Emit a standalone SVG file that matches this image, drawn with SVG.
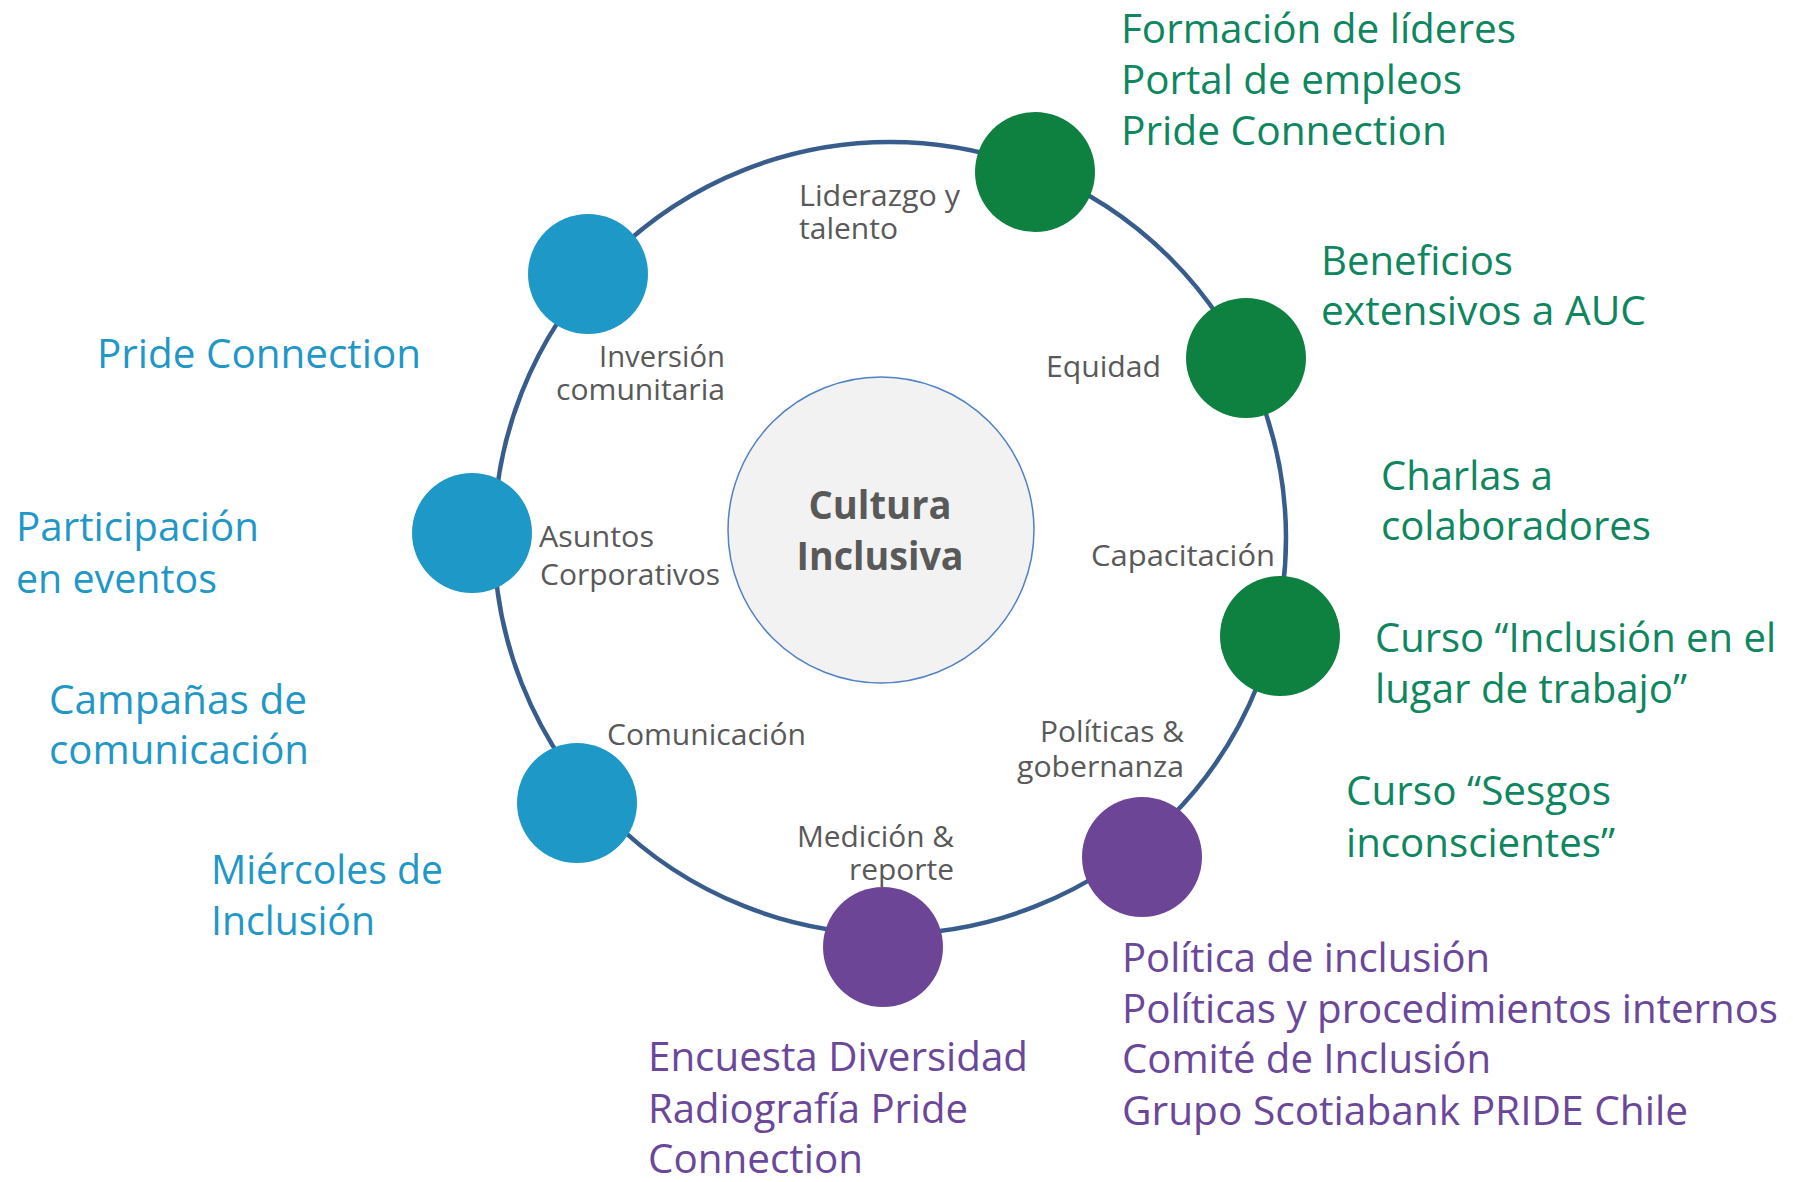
<svg xmlns="http://www.w3.org/2000/svg" width="1793" height="1182" viewBox="0 0 1793 1182">
<style>
text{font-family:"Open Sans","Noto Sans","Liberation Sans",sans-serif}
.lbl{font-size:29px;fill:#595959}
.g{font-size:40px;fill:#0e8660}
.b{font-size:40px;fill:#1f97c7}
.p{font-size:40px;fill:#6b479a}
.ng{fill:#0e8040}
.nb{fill:#1e98c6}
.np{fill:#6c4597}
.ctr{font-size:40px;font-weight:bold;fill:#595959}
</style>
<rect width="1793" height="1182" fill="#ffffff"/>
<g id="connectors">
<circle cx="890" cy="538" r="396" fill="none" stroke="#385d8c" stroke-width="4.5"/>
</g>
<g id="center">
<circle cx="881" cy="530" r="153" fill="#f2f2f2" stroke="#4f81c4" stroke-width="1.5"/>
<text class="ctr" x="880" y="519" text-anchor="middle" textLength="143" lengthAdjust="spacingAndGlyphs">Cultura</text>
<text class="ctr" x="880" y="570" text-anchor="middle" textLength="167" lengthAdjust="spacingAndGlyphs">Inclusiva</text>
</g>
<g id="node-liderazgo">
<circle class="ng" cx="1035" cy="172" r="60"/>
<text class="lbl" x="799" y="206" textLength="161" lengthAdjust="spacingAndGlyphs">Liderazgo y</text>
<text class="lbl" x="799" y="239" textLength="99" lengthAdjust="spacingAndGlyphs">talento</text>
<text class="g" x="1121" y="43" textLength="395" lengthAdjust="spacingAndGlyphs">Formación de líderes</text>
<text class="g" x="1121" y="94" textLength="341" lengthAdjust="spacingAndGlyphs">Portal de empleos</text>
<text class="g" x="1121" y="145" textLength="326" lengthAdjust="spacingAndGlyphs">Pride Connection</text>
</g>
<g id="node-equidad">
<circle class="ng" cx="1246" cy="358" r="60"/>
<text class="lbl" x="1046" y="377" textLength="115" lengthAdjust="spacingAndGlyphs">Equidad</text>
<text class="g" x="1321" y="275" textLength="192" lengthAdjust="spacingAndGlyphs">Beneficios</text>
<text class="g" x="1321" y="325" textLength="325" lengthAdjust="spacingAndGlyphs">extensivos a AUC</text>
</g>
<g id="node-capacitacion">
<circle class="ng" cx="1280" cy="636" r="60"/>
<text class="lbl" x="1091" y="566" textLength="184" lengthAdjust="spacingAndGlyphs">Capacitación</text>
<text class="g" x="1381" y="490" textLength="172" lengthAdjust="spacingAndGlyphs">Charlas a</text>
<text class="g" x="1381" y="540" textLength="270" lengthAdjust="spacingAndGlyphs">colaboradores</text>
<text class="g" x="1375" y="652" textLength="401" lengthAdjust="spacingAndGlyphs">Curso “Inclusión en el</text>
<text class="g" x="1375" y="703" textLength="312" lengthAdjust="spacingAndGlyphs">lugar de trabajo”</text>
<text class="g" x="1346" y="805" textLength="265" lengthAdjust="spacingAndGlyphs">Curso “Sesgos</text>
<text class="g" x="1346" y="857" textLength="269" lengthAdjust="spacingAndGlyphs">inconscientes”</text>
</g>
<g id="node-politicas">
<circle class="np" cx="1142" cy="857" r="60"/>
<text class="lbl" x="1184" y="742" text-anchor="end" textLength="144" lengthAdjust="spacingAndGlyphs">Políticas &amp;</text>
<text class="lbl" x="1184" y="777" text-anchor="end" textLength="167" lengthAdjust="spacingAndGlyphs">gobernanza</text>
<text class="p" x="1122" y="972" textLength="368" lengthAdjust="spacingAndGlyphs">Política de inclusión</text>
<text class="p" x="1122" y="1023" textLength="656" lengthAdjust="spacingAndGlyphs">Políticas y procedimientos internos</text>
<text class="p" x="1122" y="1073" textLength="369" lengthAdjust="spacingAndGlyphs">Comité de Inclusión</text>
<text class="p" x="1122" y="1125" textLength="566" lengthAdjust="spacingAndGlyphs">Grupo Scotiabank PRIDE Chile</text>
</g>
<g id="node-medicion">
<circle class="np" cx="883" cy="947" r="60"/>
<text class="lbl" x="954" y="847" text-anchor="end" textLength="157" lengthAdjust="spacingAndGlyphs">Medición &amp;</text>
<text class="lbl" x="954" y="880" text-anchor="end" textLength="105" lengthAdjust="spacingAndGlyphs">reporte</text>
<text class="p" x="648" y="1071" textLength="380" lengthAdjust="spacingAndGlyphs">Encuesta Diversidad</text>
<text class="p" x="648" y="1123" textLength="320" lengthAdjust="spacingAndGlyphs">Radiografía Pride</text>
<text class="p" x="648" y="1173" textLength="215" lengthAdjust="spacingAndGlyphs">Connection</text>
</g>
<g id="node-comunicacion">
<circle class="nb" cx="577" cy="803" r="60"/>
<text class="lbl" x="607" y="745" textLength="199" lengthAdjust="spacingAndGlyphs">Comunicación</text>
<text class="b" x="49" y="714" textLength="258" lengthAdjust="spacingAndGlyphs">Campañas de</text>
<text class="b" x="49" y="764" textLength="260" lengthAdjust="spacingAndGlyphs">comunicación</text>
<text class="b" x="211" y="884" textLength="232" lengthAdjust="spacingAndGlyphs">Miércoles de</text>
<text class="b" x="211" y="935" textLength="164" lengthAdjust="spacingAndGlyphs">Inclusión</text>
</g>
<g id="node-asuntos">
<circle class="nb" cx="472" cy="533" r="60"/>
<text class="lbl" x="539" y="547" textLength="115" lengthAdjust="spacingAndGlyphs">Asuntos</text>
<text class="lbl" x="540" y="585" textLength="180" lengthAdjust="spacingAndGlyphs">Corporativos</text>
<text class="b" x="16" y="541" textLength="243" lengthAdjust="spacingAndGlyphs">Participación</text>
<text class="b" x="16" y="593" textLength="201" lengthAdjust="spacingAndGlyphs">en eventos</text>
</g>
<g id="node-inversion">
<circle class="nb" cx="588" cy="274" r="60"/>
<text class="lbl" x="725" y="367" text-anchor="end" textLength="126" lengthAdjust="spacingAndGlyphs">Inversión</text>
<text class="lbl" x="725" y="400" text-anchor="end" textLength="169" lengthAdjust="spacingAndGlyphs">comunitaria</text>
<text class="b" x="97" y="368" textLength="324" lengthAdjust="spacingAndGlyphs">Pride Connection</text>
</g>
</svg>
